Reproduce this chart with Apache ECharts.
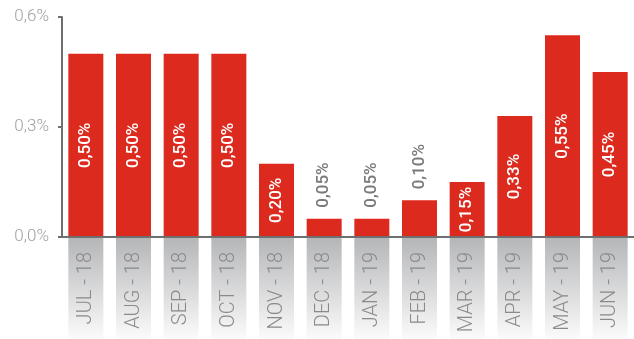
<!DOCTYPE html>
<html>
<head>
<meta charset="utf-8">
<script src="https://cdn.jsdelivr.net/npm/echarts@6/dist/echarts.min.js"></script>
<style>
  html, body { margin: 0; padding: 0; background: #fff; }
  #chart { width: 634px; height: 339px; }
</style>
</head>
<body>
<div id="chart"></div>
<script>
// Monthly rate, July 2018 – June 2019 (percent)
const months = ['JUL - 18', 'AUG - 18', 'SEP - 18', 'OCT - 18', 'NOV - 18', 'DEC - 18',
                'JAN - 19', 'FEB - 19', 'MAR - 19', 'APR - 19', 'MAY - 19', 'JUN - 19'];
const rates = [0.50, 0.50, 0.50, 0.50, 0.20, 0.05, 0.05, 0.10, 0.15, 0.33, 0.55, 0.45];
const yTicks = [0, 0.3, 0.6];

const fmtComma = (v, d) => v.toFixed(d).replace('.', ',');

const BAR_W = 35;
const RED = '#dc2a1f';

// small bars get their label above in grey, taller bars inside in white
const barData = rates.map(v => {
  const small = v < 0.12;
  return {
    value: v,
    label: small ? {
      position: 'top', distance: 11, rotate: 90, align: 'left', verticalAlign: 'middle',
      color: '#7a7a7a'
    } : {
      position: 'inside', rotate: 90, align: 'center', verticalAlign: 'middle',
      color: '#ffffff'
    }
  };
});

const chart = echarts.init(document.getElementById('chart'), null, { renderer: 'canvas' });
chart.setOption({
  animation: false,
  grid: [
    { left: 62, width: 574, top: 17, height: 220, containLabel: false },
    { left: 62, width: 574, top: 238, bottom: 0, containLabel: false }
  ],
  xAxis: [
    {
      type: 'category', gridIndex: 0, data: months, z: 10,
      axisLine: { show: true, onZero: false, lineStyle: { color: '#6f6f6f', width: 2 } },
      axisTick: { show: false },
      axisLabel: {
        interval: 0, rotate: 90, margin: 15,
        color: '#8a8a8a', fontFamily: 'Roboto', fontWeight: 300, fontSize: 20
      }
    },
    { type: 'category', gridIndex: 1, data: months, show: false }
  ],
  yAxis: [
    {
      type: 'value', gridIndex: 0, min: yTicks[0], max: yTicks[yTicks.length - 1], interval: 0.3,
      axisLine: { show: true, lineStyle: { color: '#6f6f6f', width: 2 } },
      axisTick: { show: true, length: 4, lineStyle: { color: '#6f6f6f', width: 2 } },
      splitLine: { show: false },
      axisLabel: {
        margin: 13, color: '#a0a0a0', fontFamily: 'Roboto', fontWeight: 300, fontSize: 17,
        formatter: v => fmtComma(v, 1) + '%'
      }
    },
    { type: 'value', gridIndex: 1, min: 0, max: 1, show: false }
  ],
  series: [
    {
      // grey fading panels behind the month labels
      type: 'bar', xAxisIndex: 1, yAxisIndex: 1, barWidth: BAR_W, silent: true,
      data: months.map(() => 1),
      itemStyle: {
        color: new echarts.graphic.LinearGradient(0, 0, 0, 1, [
          { offset: 0, color: '#b5b6b8' },
          { offset: 1, color: '#fbfbfb' }
        ])
      }
    },
    {
      type: 'bar', xAxisIndex: 0, yAxisIndex: 0, barWidth: BAR_W,
      data: barData,
      itemStyle: { color: RED },
      label: {
        show: true, fontFamily: 'Roboto', fontWeight: 500, fontSize: 17,
        formatter: p => fmtComma(p.value, 2) + '%'
      }
    }
  ]
});
</script>
</body>
</html>
